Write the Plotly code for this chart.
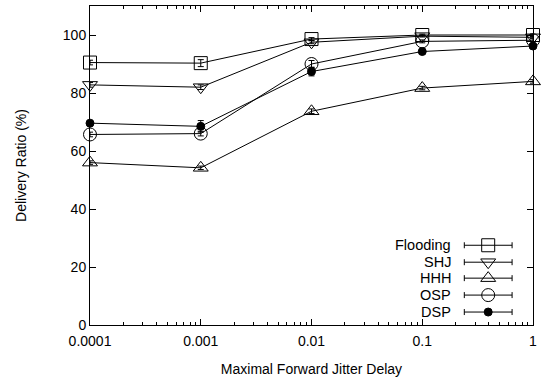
import plotly.graph_objects as go

x_vals = [0.0001, 0.001, 0.01, 0.1, 1]
series_names = ["Flooding", "SHJ", "HHH", "OSP", "DSP"]
flooding = [90.5, 90.3, 98.6, 100.0, 100.0]
shj = [82.8, 82.0, 97.5, 99.6, 99.2]
hhh = [56.0, 54.2, 73.7, 81.7, 84.0]
osp = [65.7, 66.0, 90.0, 97.8, 98.2]
dsp = [69.6, 68.5, 87.4, 94.3, 96.2]
flooding_err = [0.8, 1.2, 0.5, 0.3, 0.3]
shj_err = [0.8, 0.8, 0.5, 0.3, 0.3]
hhh_err = [0.6, 0.6, 0.8, 0.6, 0.6]
osp_err = [0.8, 0.8, 1.2, 0.5, 0.5]
dsp_err = [0.8, 2.0, 1.5, 0.5, 0.5]

values = [flooding, shj, hhh, osp, dsp]
errors = [flooding_err, shj_err, hhh_err, osp_err, dsp_err]
symbols = ["square-open", "triangle-down-open", "triangle-up-open", "circle-open", "circle"]
sizes = [13, 13, 13, 13, 8]

fig = go.Figure()
for name, v, e, s, sz in zip(series_names, values, errors, symbols, sizes):
    fig.add_trace(go.Scatter(
        x=x_vals, y=v, mode="lines+markers", name=name,
        line=dict(color="black", width=1),
        marker=dict(symbol=s, size=sz, color="black", line=dict(color="black", width=1)),
        error_y=dict(type="data", array=e, visible=True, color="black", thickness=1, width=3),
        showlegend=False, cliponaxis=False,
    ))

# manual legend (samples on the right, text on the left)
L, R, T, B = 90, 535, 5, 325
def px2paper_x(px):
    return (px - L) / (R - L)
def px2paper_y(py):
    return (B - py) / (B - T)

legend_y = [245, 262, 278, 295, 312]
for name, s, sz, py in zip(series_names, symbols, sizes, legend_y):
    fig.add_trace(go.Scatter(
        x=[px2paper_x(490)], y=[px2paper_y(py)], mode="markers",
        xaxis="x2", yaxis="y2",
        marker=dict(symbol=s, size=sz, color="black", line=dict(color="black", width=1)),
        error_x=dict(type="constant", value=px2paper_x(514) - px2paper_x(490),
                     color="black", thickness=1, width=3),
        showlegend=False, cliponaxis=False,
    ))
    fig.add_annotation(x=px2paper_x(455), y=px2paper_y(py), xref="paper", yref="paper",
                       text=name, showarrow=False, xanchor="right", yanchor="middle",
                       font=dict(size=14.5, color="black"))

axis_common = dict(showline=True, linecolor="black", linewidth=1, mirror="allticks",
                   ticks="inside", ticklen=6, tickcolor="black", showgrid=False,
                   zeroline=False, tickfont=dict(size=14, color="black"))

fig.update_layout(
    width=542, height=383,
    margin=dict(l=L, r=542 - R, t=T, b=383 - B),
    paper_bgcolor="white", plot_bgcolor="white",
    font=dict(family="Liberation Sans, Arial, sans-serif", size=14, color="black"),
    xaxis=dict(type="log", range=[-4, 0], dtick=1, tickvals=x_vals,
               ticktext=["0.0001", "0.001", "0.01", "0.1", "1"],
               ticklabelstandoff=3,
               minor=dict(ticks="inside", ticklen=3, tickcolor="black", dtick="D1"),
               title=dict(text="Maximal Forward Jitter Delay", font=dict(size=14), standoff=16),
               **axis_common),
    yaxis=dict(range=[0, 110], tickvals=[0, 20, 40, 60, 80, 100],
               title=dict(text="Delivery Ratio (%)", font=dict(size=14), standoff=32),
               **axis_common),
    xaxis2=dict(overlaying="x", range=[0, 1], visible=False, fixedrange=True),
    yaxis2=dict(overlaying="y", range=[0, 1], visible=False, fixedrange=True),
)

fig.write_html("out.html")
